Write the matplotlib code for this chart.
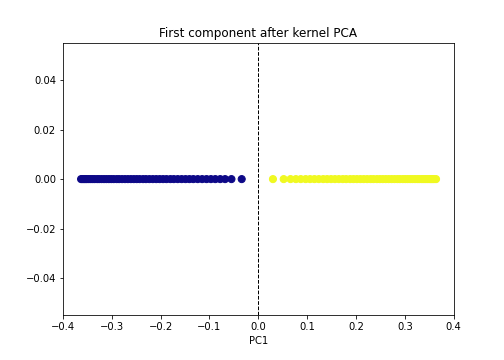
import numpy as np
import matplotlib
matplotlib.use('Agg')
import matplotlib.pyplot as plt

# First principal component values, all points sit at y = 0
pc1_class0 = [-0.034, -0.055, -0.068, -0.078, -0.088, -0.097, -0.106, -0.115,
              -0.124, -0.133, -0.141, -0.149, -0.157, -0.165, -0.173, -0.180,
              -0.188, -0.195, -0.202, -0.209, -0.216, -0.223, -0.230, -0.236,
              -0.243, -0.249, -0.255, -0.261, -0.267, -0.273, -0.279, -0.285,
              -0.290, -0.296, -0.301, -0.306, -0.311, -0.316, -0.321, -0.326,
              -0.330, -0.335, -0.339, -0.343, -0.347, -0.351, -0.354, -0.357,
              -0.360, -0.363]
pc1_class1 = [0.030, 0.052, 0.066, 0.077, 0.087, 0.097, 0.106, 0.115,
              0.124, 0.133, 0.141, 0.149, 0.157, 0.165, 0.173, 0.180,
              0.188, 0.195, 0.202, 0.209, 0.216, 0.223, 0.230, 0.236,
              0.243, 0.249, 0.255, 0.261, 0.267, 0.273, 0.279, 0.285,
              0.290, 0.296, 0.301, 0.306, 0.311, 0.316, 0.321, 0.326,
              0.330, 0.335, 0.339, 0.343, 0.347, 0.351, 0.354, 0.357,
              0.360, 0.364]

pc1 = np.array(pc1_class0 + pc1_class1)
labels = np.array([0] * len(pc1_class0) + [1] * len(pc1_class1))

fig = plt.figure(figsize=(7, 5), dpi=72)
ax = fig.add_axes([0.125, 0.125, 0.775, 0.755])
ax.scatter(pc1, np.zeros_like(pc1), c=labels, cmap='plasma', s=50)
ax.axvline(0, color='black', linestyle='--', linewidth=1)
ax.set_xlim(-0.4, 0.4)
ax.set_ylim(-0.055, 0.055)
ax.set_title('First component after kernel PCA')
ax.set_xlabel('PC1')
fig.savefig('out.png', dpi=72)
